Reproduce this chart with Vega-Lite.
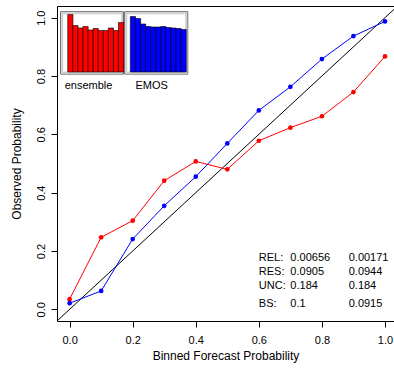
{
  "$schema": "https://vega.github.io/schema/vega-lite/v6.json",
  "width": 337,
  "height": 315,
  "autosize": {"type": "none"},
  "padding": {"left": 57, "top": 6, "right": 0, "bottom": 50},
  "background": "white",
  "config": {
    "view": {"stroke": "black", "strokeWidth": 1},
    "font": "Liberation Sans",
    "text": {"font": "Liberation Sans", "fontSize": 11, "color": "black"}
  },
  "datasets": {
    "reliability": [
      {"bin": 0.0, "model": "ensemble", "obs": 0.035},
      {"bin": 0.1, "model": "ensemble", "obs": 0.247},
      {"bin": 0.2, "model": "ensemble", "obs": 0.304},
      {"bin": 0.3, "model": "ensemble", "obs": 0.441},
      {"bin": 0.4, "model": "ensemble", "obs": 0.507},
      {"bin": 0.5, "model": "ensemble", "obs": 0.480},
      {"bin": 0.6, "model": "ensemble", "obs": 0.578},
      {"bin": 0.7, "model": "ensemble", "obs": 0.623},
      {"bin": 0.8, "model": "ensemble", "obs": 0.662},
      {"bin": 0.9, "model": "ensemble", "obs": 0.745},
      {"bin": 1.0, "model": "ensemble", "obs": 0.867},
      {"bin": 0.0, "model": "EMOS", "obs": 0.021},
      {"bin": 0.1, "model": "EMOS", "obs": 0.063},
      {"bin": 0.2, "model": "EMOS", "obs": 0.241},
      {"bin": 0.3, "model": "EMOS", "obs": 0.355},
      {"bin": 0.4, "model": "EMOS", "obs": 0.455},
      {"bin": 0.5, "model": "EMOS", "obs": 0.569},
      {"bin": 0.6, "model": "EMOS", "obs": 0.682},
      {"bin": 0.7, "model": "EMOS", "obs": 0.763},
      {"bin": 0.8, "model": "EMOS", "obs": 0.858},
      {"bin": 0.9, "model": "EMOS", "obs": 0.937},
      {"bin": 1.0, "model": "EMOS", "obs": 0.987}
    ],
    "rankhist": [
      {"forecast": "ensemble", "rank": 1, "freq": 0.115},
      {"forecast": "ensemble", "rank": 2, "freq": 0.093},
      {"forecast": "ensemble", "rank": 3, "freq": 0.088},
      {"forecast": "ensemble", "rank": 4, "freq": 0.091},
      {"forecast": "ensemble", "rank": 5, "freq": 0.084},
      {"forecast": "ensemble", "rank": 6, "freq": 0.087},
      {"forecast": "ensemble", "rank": 7, "freq": 0.083},
      {"forecast": "ensemble", "rank": 8, "freq": 0.083},
      {"forecast": "ensemble", "rank": 9, "freq": 0.088},
      {"forecast": "ensemble", "rank": 10, "freq": 0.083},
      {"forecast": "ensemble", "rank": 11, "freq": 0.099},
      {"forecast": "EMOS", "rank": 1, "freq": 0.111},
      {"forecast": "EMOS", "rank": 2, "freq": 0.107},
      {"forecast": "EMOS", "rank": 3, "freq": 0.096},
      {"forecast": "EMOS", "rank": 4, "freq": 0.091},
      {"forecast": "EMOS", "rank": 5, "freq": 0.090},
      {"forecast": "EMOS", "rank": 6, "freq": 0.090},
      {"forecast": "EMOS", "rank": 7, "freq": 0.091},
      {"forecast": "EMOS", "rank": 8, "freq": 0.089},
      {"forecast": "EMOS", "rank": 9, "freq": 0.088},
      {"forecast": "EMOS", "rank": 10, "freq": 0.087},
      {"forecast": "EMOS", "rank": 11, "freq": 0.085}
    ],
    "stats": [
      {"stat": "REL:", "ensemble": "0.00656", "EMOS": "0.00171"},
      {"stat": "RES:", "ensemble": "0.0905", "EMOS": "0.0944"},
      {"stat": "UNC:", "ensemble": "0.184", "EMOS": "0.184"},
      {"stat": "BS:", "ensemble": "0.1", "EMOS": "0.0915"}
    ],
    "one": [{}]
  },
  "layer": [
    {
      "layer": [
        {
          "data": {"name": "one"},
          "mark": {"type": "rule", "color": "black", "strokeWidth": 1},
          "encoding": {
            "x": {"datum": -0.04, "type": "quantitative"},
            "y": {"datum": -0.04, "type": "quantitative"},
            "x2": {"datum": 1.0286},
            "y2": {"datum": 1.0286}
          }
        },
        {
          "data": {"name": "reliability"},
          "mark": {"type": "line", "strokeWidth": 1},
          "encoding": {
            "x": {
              "field": "bin", "type": "quantitative",
              "scale": {"domain": [-0.04, 1.0286], "nice": false, "zero": false},
              "axis": {
                "title": "Binned Forecast Probability",
                "values": [0, 0.2, 0.4, 0.6, 0.8, 1.0],
                "format": ".1f", "grid": false, "domain": false,
                "tickSize": 6, "tickColor": "black", "labelColor": "black",
                "labelFont": "Liberation Sans", "labelFontSize": 11,
                "labelPadding": 7, "labelBaseline": "top",
                "titleFont": "Liberation Sans", "titleFontSize": 12,
                "titleFontWeight": "normal", "titleColor": "black", "titlePadding": 5
              }
            },
            "y": {
              "field": "obs", "type": "quantitative",
              "scale": {"domain": [-0.04, 1.04], "nice": false, "zero": false},
              "axis": {
                "title": "Observed Probability",
                "values": [0, 0.2, 0.4, 0.6, 0.8, 1.0],
                "format": ".1f", "grid": false, "domain": false,
                "tickSize": 6, "tickColor": "black", "labelColor": "black",
                "labelFont": "Liberation Sans", "labelFontSize": 11,
                "labelAngle": 270, "labelAlign": "center", "labelBaseline": "alphabetic",
                "labelPadding": 7,
                "titleFont": "Liberation Sans", "titleFontSize": 12,
                "titleFontWeight": "normal", "titleColor": "black", "titlePadding": 12
              }
            },
            "color": {
              "field": "model", "type": "nominal",
              "scale": {"domain": ["ensemble", "EMOS"], "range": ["#FF0000", "#0000FF"]},
              "legend": null
            }
          }
        },
        {
          "data": {"name": "reliability"},
          "mark": {"type": "circle", "size": 22, "opacity": 1},
          "encoding": {
            "x": {"field": "bin", "type": "quantitative"},
            "y": {"field": "obs", "type": "quantitative"},
            "color": {"field": "model", "type": "nominal", "legend": null}
          }
        },
        {
          "data": {"name": "one"},
          "mark": {"type": "rect", "fill": "white", "stroke": "#666666", "strokeWidth": 1},
          "encoding": {
            "x": {"datum": -0.0286}, "x2": {"datum": 0.171},
            "y": {"datum": 1.0205}, "y2": {"datum": 0.8065}
          }
        },
        {
          "data": {"name": "one"},
          "mark": {"type": "rect", "fill": "white", "stroke": "#d0d0d0", "strokeWidth": 2},
          "encoding": {
            "x": {"datum": -0.0236}, "x2": {"datum": 0.166},
            "y": {"datum": 1.0153}, "y2": {"datum": 0.8117}
          }
        },
        {
          "data": {"name": "one"},
          "mark": {"type": "rect", "fill": "white", "stroke": "#666666", "strokeWidth": 1},
          "encoding": {
            "x": {"datum": 0.1746}, "x2": {"datum": 0.3746},
            "y": {"datum": 1.0205}, "y2": {"datum": 0.8065}
          }
        },
        {
          "data": {"name": "one"},
          "mark": {"type": "rect", "fill": "white", "stroke": "#d0d0d0", "strokeWidth": 2},
          "encoding": {
            "x": {"datum": 0.1796}, "x2": {"datum": 0.3696},
            "y": {"datum": 1.0153}, "y2": {"datum": 0.8117}
          }
        },
        {
          "data": {"name": "one"},
          "mark": {"type": "text", "align": "center", "baseline": "middle", "text": "ensemble"},
          "encoding": {"x": {"datum": 0.06}, "y": {"datum": 0.765}}
        },
        {
          "data": {"name": "one"},
          "mark": {"type": "text", "align": "center", "baseline": "middle", "text": "EMOS"},
          "encoding": {"x": {"datum": 0.26}, "y": {"datum": 0.765}}
        },
        {
          "data": {"name": "stats"},
          "transform": [{"filter": "datum.stat == 'REL:'"}],
          "encoding": {"y": {"datum": 0.176}},
          "layer": [
            {"mark": {"type": "text", "align": "left", "baseline": "middle"}, "encoding": {"x": {"datum": 0.6}, "text": {"field": "stat", "type": "nominal"}}},
            {"mark": {"type": "text", "align": "left", "baseline": "middle"}, "encoding": {"x": {"datum": 0.7}, "text": {"field": "ensemble", "type": "nominal"}}},
            {"mark": {"type": "text", "align": "left", "baseline": "middle"}, "encoding": {"x": {"datum": 0.885}, "text": {"field": "EMOS", "type": "nominal"}}}
          ]
        },
        {
          "data": {"name": "stats"},
          "transform": [{"filter": "datum.stat == 'RES:'"}],
          "encoding": {"y": {"datum": 0.128}},
          "layer": [
            {"mark": {"type": "text", "align": "left", "baseline": "middle"}, "encoding": {"x": {"datum": 0.6}, "text": {"field": "stat", "type": "nominal"}}},
            {"mark": {"type": "text", "align": "left", "baseline": "middle"}, "encoding": {"x": {"datum": 0.7}, "text": {"field": "ensemble", "type": "nominal"}}},
            {"mark": {"type": "text", "align": "left", "baseline": "middle"}, "encoding": {"x": {"datum": 0.885}, "text": {"field": "EMOS", "type": "nominal"}}}
          ]
        },
        {
          "data": {"name": "stats"},
          "transform": [{"filter": "datum.stat == 'UNC:'"}],
          "encoding": {"y": {"datum": 0.080}},
          "layer": [
            {"mark": {"type": "text", "align": "left", "baseline": "middle"}, "encoding": {"x": {"datum": 0.6}, "text": {"field": "stat", "type": "nominal"}}},
            {"mark": {"type": "text", "align": "left", "baseline": "middle"}, "encoding": {"x": {"datum": 0.7}, "text": {"field": "ensemble", "type": "nominal"}}},
            {"mark": {"type": "text", "align": "left", "baseline": "middle"}, "encoding": {"x": {"datum": 0.885}, "text": {"field": "EMOS", "type": "nominal"}}}
          ]
        },
        {
          "data": {"name": "stats"},
          "transform": [{"filter": "datum.stat == 'BS:'"}],
          "encoding": {"y": {"datum": 0.018}},
          "layer": [
            {"mark": {"type": "text", "align": "left", "baseline": "middle"}, "encoding": {"x": {"datum": 0.6}, "text": {"field": "stat", "type": "nominal"}}},
            {"mark": {"type": "text", "align": "left", "baseline": "middle"}, "encoding": {"x": {"datum": 0.7}, "text": {"field": "ensemble", "type": "nominal"}}},
            {"mark": {"type": "text", "align": "left", "baseline": "middle"}, "encoding": {"x": {"datum": 0.885}, "text": {"field": "EMOS", "type": "nominal"}}}
          ]
        }
      ]
    },
    {
      "data": {"name": "rankhist"},
      "transform": [{"filter": "datum.forecast == 'ensemble'"}],
      "mark": {"type": "bar", "color": "#FF0000", "stroke": "black", "strokeWidth": 0.6, "size": 5.227},
      "encoding": {
        "x": {"field": "rank", "type": "quantitative", "axis": null,
              "scale": {"domain": [-0.6455, 63.83], "nice": false, "zero": false}},
        "y": {"field": "freq", "type": "quantitative", "axis": null,
              "scale": {"domain": [-0.498, 0.132], "nice": false, "zero": false}},
        "y2": {"datum": 0}
      }
    },
    {
      "data": {"name": "rankhist"},
      "transform": [{"filter": "datum.forecast == 'EMOS'"}],
      "mark": {"type": "bar", "color": "#0000FF", "stroke": "black", "strokeWidth": 0.6, "size": 5.227},
      "encoding": {
        "x": {"field": "rank", "type": "quantitative", "axis": null,
              "scale": {"domain": [-12.986, 51.49], "nice": false, "zero": false}},
        "y": {"field": "freq", "type": "quantitative", "axis": null,
              "scale": {"domain": [-0.498, 0.132], "nice": false, "zero": false}},
        "y2": {"datum": 0}
      }
    }
  ],
  "resolve": {"scale": {"x": "independent", "y": "independent", "color": "independent"}}
}
